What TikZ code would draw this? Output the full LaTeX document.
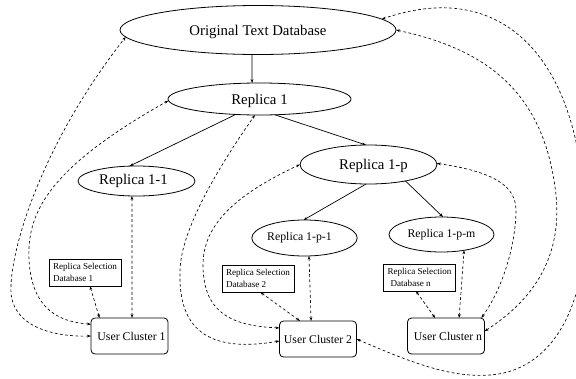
\documentclass[tikz,border=0pt]{standalone}
\usepackage{fontspec}
\setmainfont{Liberation Serif}
\usetikzlibrary{shapes.geometric,arrows.meta}
\tikzset{
  oval/.style={draw,ellipse,inner sep=0pt,outer sep=0pt,line width=0.8pt},
  bigtext/.style={font=\fontsize{14.8}{16}\selectfont},
  lowtext/.style={text height=10pt,text depth=0pt},
  smalltext/.style={font=\fontsize{11.8}{14}\selectfont},
  dbbox/.style={draw,rectangle,inner sep=0pt,outer sep=0pt,line width=0.9pt,minimum width=72pt,minimum height=27pt,align=left,font=\fontsize{9.1}{12.7}\selectfont},
  cluster/.style={draw,rectangle,rounded corners=4pt,inner sep=0pt,outer sep=0pt,line width=0.8pt,minimum width=77pt,minimum height=36pt,smalltext},
  solidlink/.style={line width=0.7pt,-{Stealth[length=4pt,width=2.8pt]}},
  duplex/.style={line width=0.65pt,dash pattern=on 2.8pt off 2.4pt,{Stealth[length=4pt,width=2.8pt]}-{Stealth[length=4pt,width=2.8pt]}},
}
\begin{document}
\begin{tikzpicture}[x=1pt,y=-1pt]
\useasboundingbox (0,0) rectangle (576,378);
\clip (0,0) rectangle (576,378);
\node[oval,minimum width=276pt,minimum height=49pt,bigtext,lowtext] (orig) at (258,30) {Original Text Database};
\node[oval,minimum width=183pt,minimum height=32pt,bigtext,lowtext] (r1) at (259.5,99) {Replica 1};
\node[oval,minimum width=117pt,minimum height=30pt,bigtext] (r11) at (136.5,181) {Replica 1-1\hspace*{6pt}};
\node[oval,minimum width=137pt,minimum height=39pt,bigtext,lowtext] (r1p) at (368.5,164.5) {\hspace*{10pt}Replica 1-p};
\node[oval,minimum width=105pt,minimum height=36pt,smalltext] (r1p1) at (304.5,238) {Replica 1-p-1\hspace*{10pt}};
\node[oval,minimum width=105pt,minimum height=35pt,smalltext] (r1pm) at (441.5,234.5) {Replica 1-p-m};
\node[dbbox] (db1) at (85,272.5) {Replica Selection\\Database 1};
\node[dbbox] (db2) at (258,278.5) {Replica Selection\\Database 2};
\node[dbbox] (dbn) at (419.5,277.5) {Replica Selection\\\hspace{3pt}Database n};
\node[cluster] (uc1) at (129.5,336) {\hspace*{4pt}User Cluster 1};
\node[cluster] (uc2) at (318,339) {User Cluster 2};
\node[cluster] (ucn) at (446,336) {\hspace*{4pt}User Cluster n};

\draw[solidlink] (orig.256) -- (r1.115);
\draw[solidlink] (r1.213) -- (r11.115);
\draw[solidlink] (r1.-46) -- (r1p.97);
\draw[solidlink] (r1p.263) -- (r1p1.93);
\draw[solidlink] (r1p.-24) -- (r1pm.85);

\draw[duplex] (uc1.82) -- (r11.253);
\draw[duplex] (db1.-70) -- (uc1.149);
\draw[duplex] (uc2.111) -- (r1p1.-76);
\draw[duplex] (db2.-81) -- (uc2.135);
\draw[duplex] (dbn.-105) -- (ucn.121);
\draw[duplex] (ucn.54) -- (r1pm.-35);

\draw[duplex] (uc1.180) .. controls (50,337) and (8,325) .. (11,285) .. controls (13,240) and (45,140) .. (orig.183);
\draw[duplex] (uc1.163) .. controls (62,322) and (32,312) .. (29,260) .. controls (27,215) and (45,170) .. (r1.181);
\draw[duplex] (uc2.183) .. controls (215,352) and (178,335) .. (180,272) .. controls (180,230) and (220,165) .. (r1.254);
\draw[duplex] (uc2.164) .. controls (235,326) and (203,315) .. (203,265) .. controls (203,225) and (235,195) .. (r1p.180);
\draw[duplex] (ucn.27) .. controls (505,285) and (516,240) .. (516,210) .. controls (516,180) and (480,170) .. (r1p.1);
\draw[duplex] (ucn.7) .. controls (525,305) and (563,265) .. (556,195) .. controls (545,95) and (490,50) .. (orig.0);
\draw[duplex] (uc2.0) .. controls (410,362) and (450,378) .. (490,375) .. controls (560,370) and (590,290) .. (584,210) .. controls (580,70) and (510,-25) .. (orig.5);
\end{tikzpicture}
\end{document}
